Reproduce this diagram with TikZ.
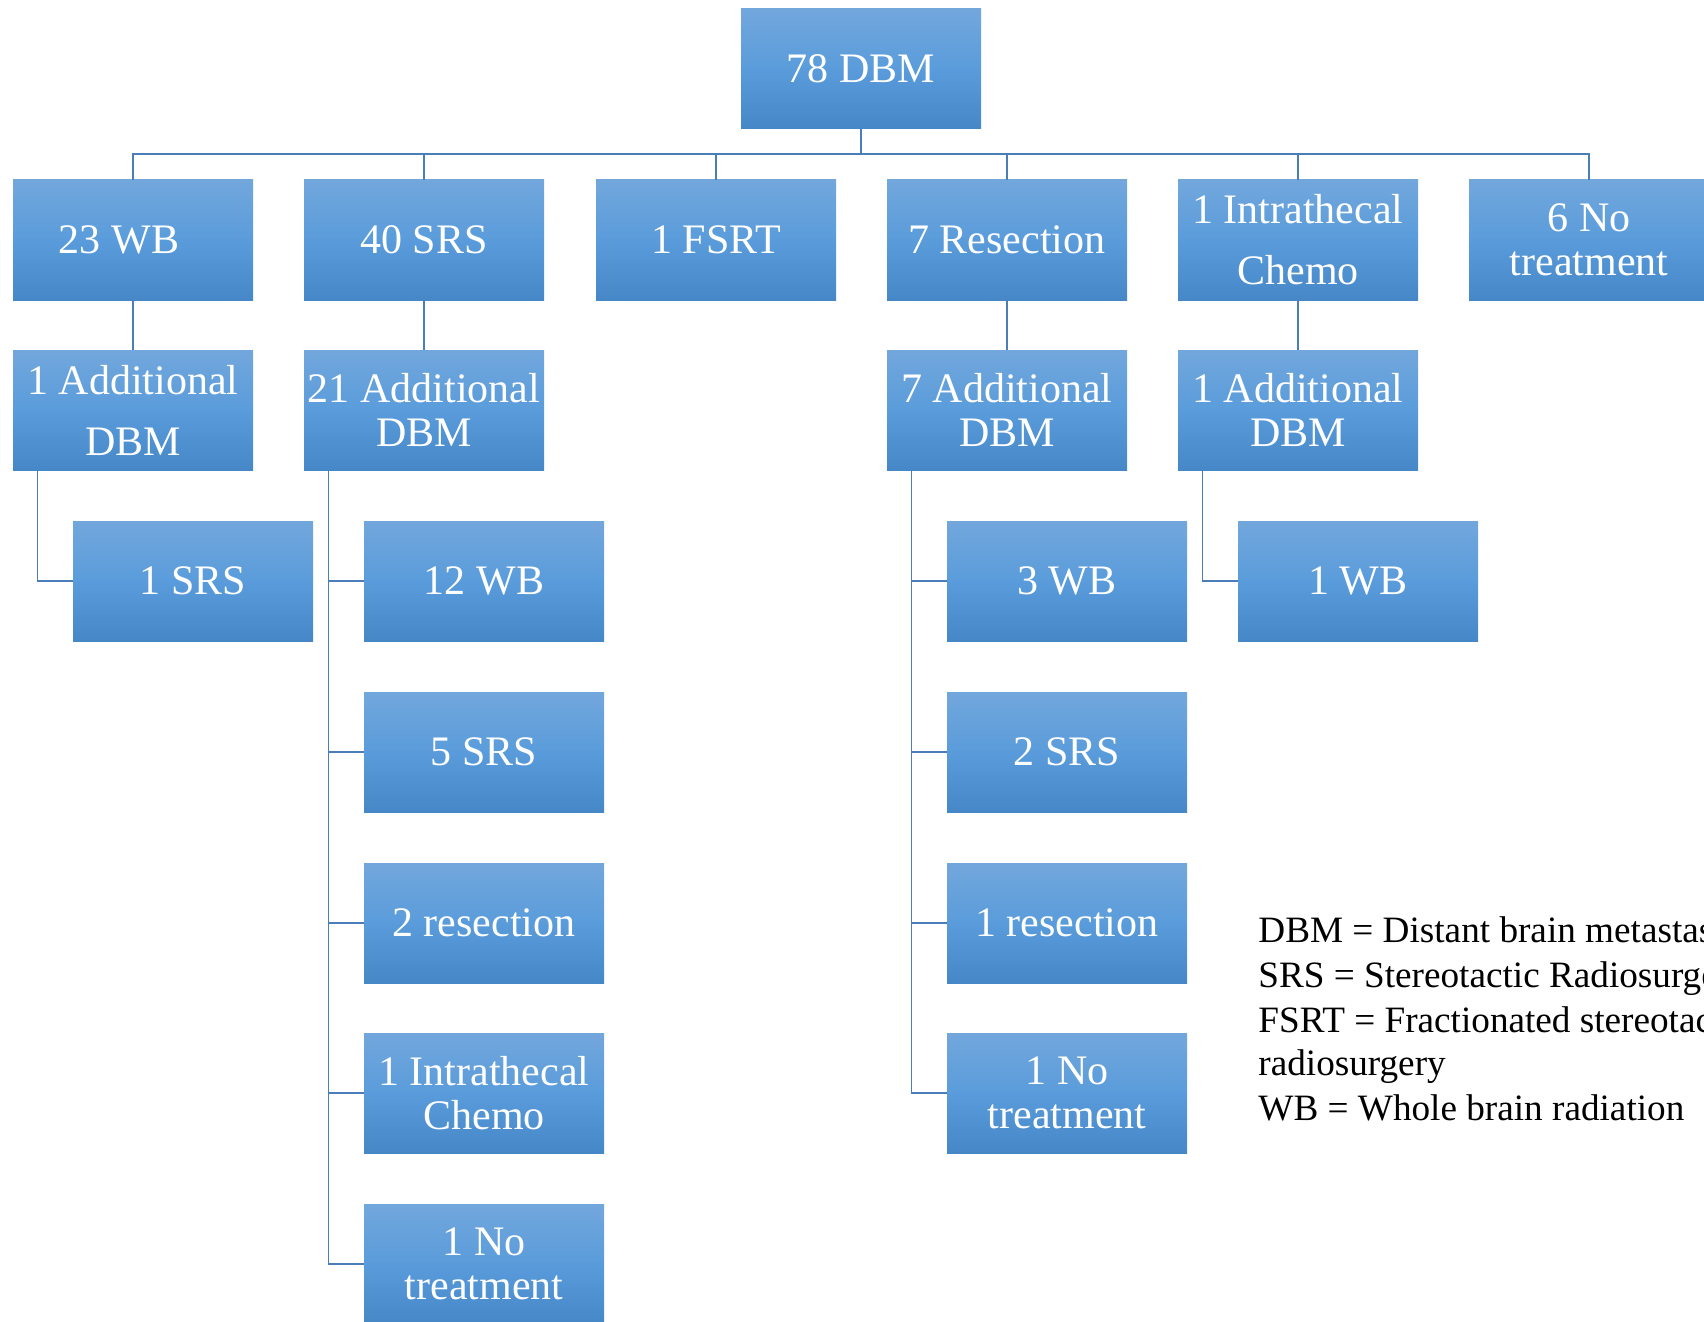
\documentclass[tikz,border=0pt]{standalone}
\usepackage{fontspec}
\setmainfont{Liberation Serif}

\definecolor{boxtop}{HTML}{72A7DC}
\definecolor{boxmid}{HTML}{5A9CDB}
\definecolor{boxbot}{HTML}{4587C7}
\definecolor{linkblue}{HTML}{4A7EBB}

\begin{document}
\begin{tikzpicture}[x=0.5pt,y=-0.5pt]

      \useasboundingbox (0,0) rectangle (1704,1322);
      \clip (0,0) rectangle (1704,1322);

      \tikzset{
        box/.style={rectangle,minimum width=120pt,minimum height=60pt,inner sep=0pt,
          top color=boxtop,bottom color=boxbot,middle color=boxmid,
          text=white,align=center,font=\fontsize{21pt}{21.7pt}\selectfont},
        widebox/.style={box,font=\fontsize{21pt}{30.5pt}\selectfont},
        link/.style={draw=linkblue,line width=0.8pt},
        legend/.style={anchor=base west,inner sep=0pt,
          font=\fontsize{18.6pt}{22.3pt}\selectfont}
      }

      \begin{scope}[every node/.style={box}]
        \node (root)     at (861,69)   {78 DBM};
        \node (wb)       at (133,240)  {23 WB\hspace*{14pt}};
        \node (srs)      at (424,240)  {40 SRS};
        \node (fsrt)     at (716,240)  {1 FSRT};
        \node (res)      at (1007,240) {7 Resection};
        \node[widebox] (chemo) at (1298,240) {1 Intrathecal\\Chemo};
        \node (none)     at (1589,240) {6 No\\treatment};

        \node[widebox] (wbadd) at (133,410) {1 Additional\\DBM};
        \node (srsadd)   at (424,410)  {21 Additional\\DBM};
        \node (resadd)   at (1007,410) {7 Additional\\DBM};
        \node (chemoadd) at (1298,410) {1 Additional\\DBM};

        \node (wbsrs)    at (193,581)  {1 SRS};

        \node (srswb)    at (484,581)  {12 WB};
        \node (srssrs)   at (484,752)  {5 SRS};
        \node (srsres)   at (484,923)  {2 resection};
        \node (srschemo) at (484,1093) {1 Intrathecal\\Chemo};
        \node (srsnone)  at (484,1264) {1 No\\treatment};

        \node (reswb)    at (1067,581) {3 WB};
        \node (ressrs)   at (1067,752) {2 SRS};
        \node (resres)   at (1067,923) {1 resection};
        \node (resnone)  at (1067,1093) {1 No\\treatment};

        \node (chemowb)  at (1358,581) {1 WB};
      \end{scope}

      \coordinate (bus) at (861,154);

      \begin{scope}[every path/.style={link}]
        \draw (root) -- (bus);
        \draw (bus) -| (wb.north);
        \draw (bus) -| (srs.north);
        \draw (bus) -| (fsrt.north);
        \draw (bus) -| (res.north);
        \draw (bus) -| (chemo.north);
        \draw (bus) -| (none.north);

        \draw (wb) -- (wbadd);
        \draw (srs) -- (srsadd);
        \draw (res) -- (resadd);
        \draw (chemo) -- (chemoadd);

        \draw ([xshift=12.5pt]wbadd.south west) |- (wbsrs.west);

        \draw ([xshift=12.5pt]srsadd.south west) |- (srswb.west);
        \draw ([xshift=12.5pt]srsadd.south west) |- (srssrs.west);
        \draw ([xshift=12.5pt]srsadd.south west) |- (srsres.west);
        \draw ([xshift=12.5pt]srsadd.south west) |- (srschemo.west);
        \draw ([xshift=12.5pt]srsadd.south west) |- (srsnone.west);

        \draw ([xshift=12.5pt]resadd.south west) |- (reswb.west);
        \draw ([xshift=12.5pt]resadd.south west) |- (ressrs.west);
        \draw ([xshift=12.5pt]resadd.south west) |- (resres.west);
        \draw ([xshift=12.5pt]resadd.south west) |- (resnone.west);

        \draw ([xshift=12.5pt]chemoadd.south west) |- (chemowb.west);
      \end{scope}

      \begin{scope}[every node/.style={legend}]
        \node (leg1) at (1258,942)  {DBM = Distant brain metastasis};
        \node (leg2) at (1258,987)  {SRS = Stereotactic Radiosurgery};
        \node (leg3) at (1258,1032) {FSRT = Fractionated stereotactic};
        \node (leg4) at (1258,1075) {radiosurgery};
        \node (leg5) at (1258,1120) {WB = Whole brain radiation};
      \end{scope}

    \end{tikzpicture}
\end{document}
